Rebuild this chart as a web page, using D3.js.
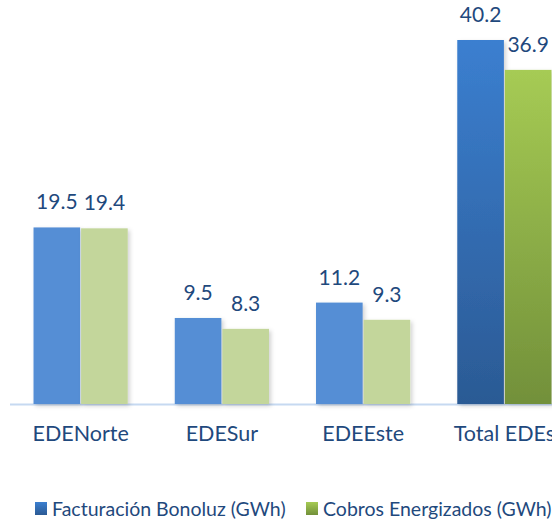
<!DOCTYPE html>
<html><head><meta charset="utf-8">
<script src="https://cdn.jsdelivr.net/npm/d3@7/dist/d3.min.js"></script>
<style>body{margin:0;background:#fff;overflow:hidden}svg{display:block}</style>
</head><body>
<script>
const categories = ["EDENorte", "EDESur", "EDEEste", "Total EDEs"];
const seriesNames = ["Facturación Bonoluz (GWh)", "Cobros Energizados (GWh)"];
const facturacion = [19.5, 9.5, 11.2, 40.2];
const cobros = [19.4, 8.3, 9.3, 36.9];

const W = 552, H = 521;
const svg = d3.select("body").append("svg").attr("width", W).attr("height", H);
const defs = svg.append("defs");
const f = defs.append("filter").attr("id","sh").attr("x","-20%").attr("y","-20%").attr("width","140%").attr("height","140%");
f.append("feDropShadow").attr("dx",2).attr("dy",2).attr("stdDeviation",2).attr("flood-color","#000").attr("flood-opacity",0.18);
function grad(id, c1, c2){
  const g = defs.append("linearGradient").attr("id",id).attr("x1",0).attr("y1",0).attr("x2",0).attr("y2",1);
  g.append("stop").attr("offset","0%").attr("stop-color",c1);
  g.append("stop").attr("offset","100%").attr("stop-color",c2);
}
grad("gBlue","#3b7fd0","#2b5a94");
grad("gGreen","#a6cb54","#72903a");

const baseY = 404;
const x = d3.scaleBand().domain(categories).range([10, 575]).paddingInner(0.333).paddingOuter(0.1665);
const x1 = d3.scaleBand().domain([0,1]).range([0, x.bandwidth()]).paddingInner(0.02);
const y = d3.scaleLinear().domain([0, 40.2]).range([baseY, 40]);

const txt = "#1f497d";
const font = "Lato, 'Open Sans', sans-serif";
const flatCols = ["#558ed5", "#c3d69b"];
const totalCols = ["url(#gBlue)", "url(#gGreen)"];
const series = [facturacion, cobros];

// axis line
svg.append("line").attr("x1",10).attr("x2",W).attr("y1",baseY+0.5).attr("y2",baseY+0.5)
  .attr("stroke","#c6d9f1").attr("stroke-width",2);

categories.forEach((c, i) => {
  const g = svg.append("g").attr("transform",`translate(${x(c)},0)`);
  series.forEach((s, k) => {
    const v = s[i];
    const isTotal = i === categories.length - 1;
    g.append("rect").attr("x", x1(k)).attr("y", y(v)).attr("width", x1.bandwidth())
      .attr("height", baseY - y(v)).attr("fill", isTotal ? totalCols[k] : flatCols[k])
      .attr("filter","url(#sh)");
    g.append("text").attr("x", x1(k) + x1.bandwidth()/2).attr("y", y(v) - 18)
      .attr("text-anchor","middle").attr("font-family",font).attr("font-size",21)
      .attr("fill",txt).text(d3.format(".1f")(v));
  });
});

const xAxis = svg.append("g").attr("transform",`translate(0,${baseY})`).call(d3.axisBottom(x).tickSize(0).tickPadding(0));
xAxis.select(".domain").remove();
xAxis.selectAll("text").attr("y", 37).attr("dy", 0).attr("font-family",font).attr("font-size",21.5).attr("fill",txt);

// legend
const legX = [35, 306];
const legCols = ["url(#gBlue)", "url(#gGreen)"];
seriesNames.forEach((n, k) => {
  svg.append("rect").attr("x", legX[k]).attr("y", 502).attr("width", 12).attr("height", 13).attr("fill", legCols[k]);
  svg.append("text").attr("x", legX[k] + 17).attr("y", 515.5).attr("font-family",font).attr("font-size",19.5)
    .attr("fill",txt).text(n);
});
</script>
</body></html>
